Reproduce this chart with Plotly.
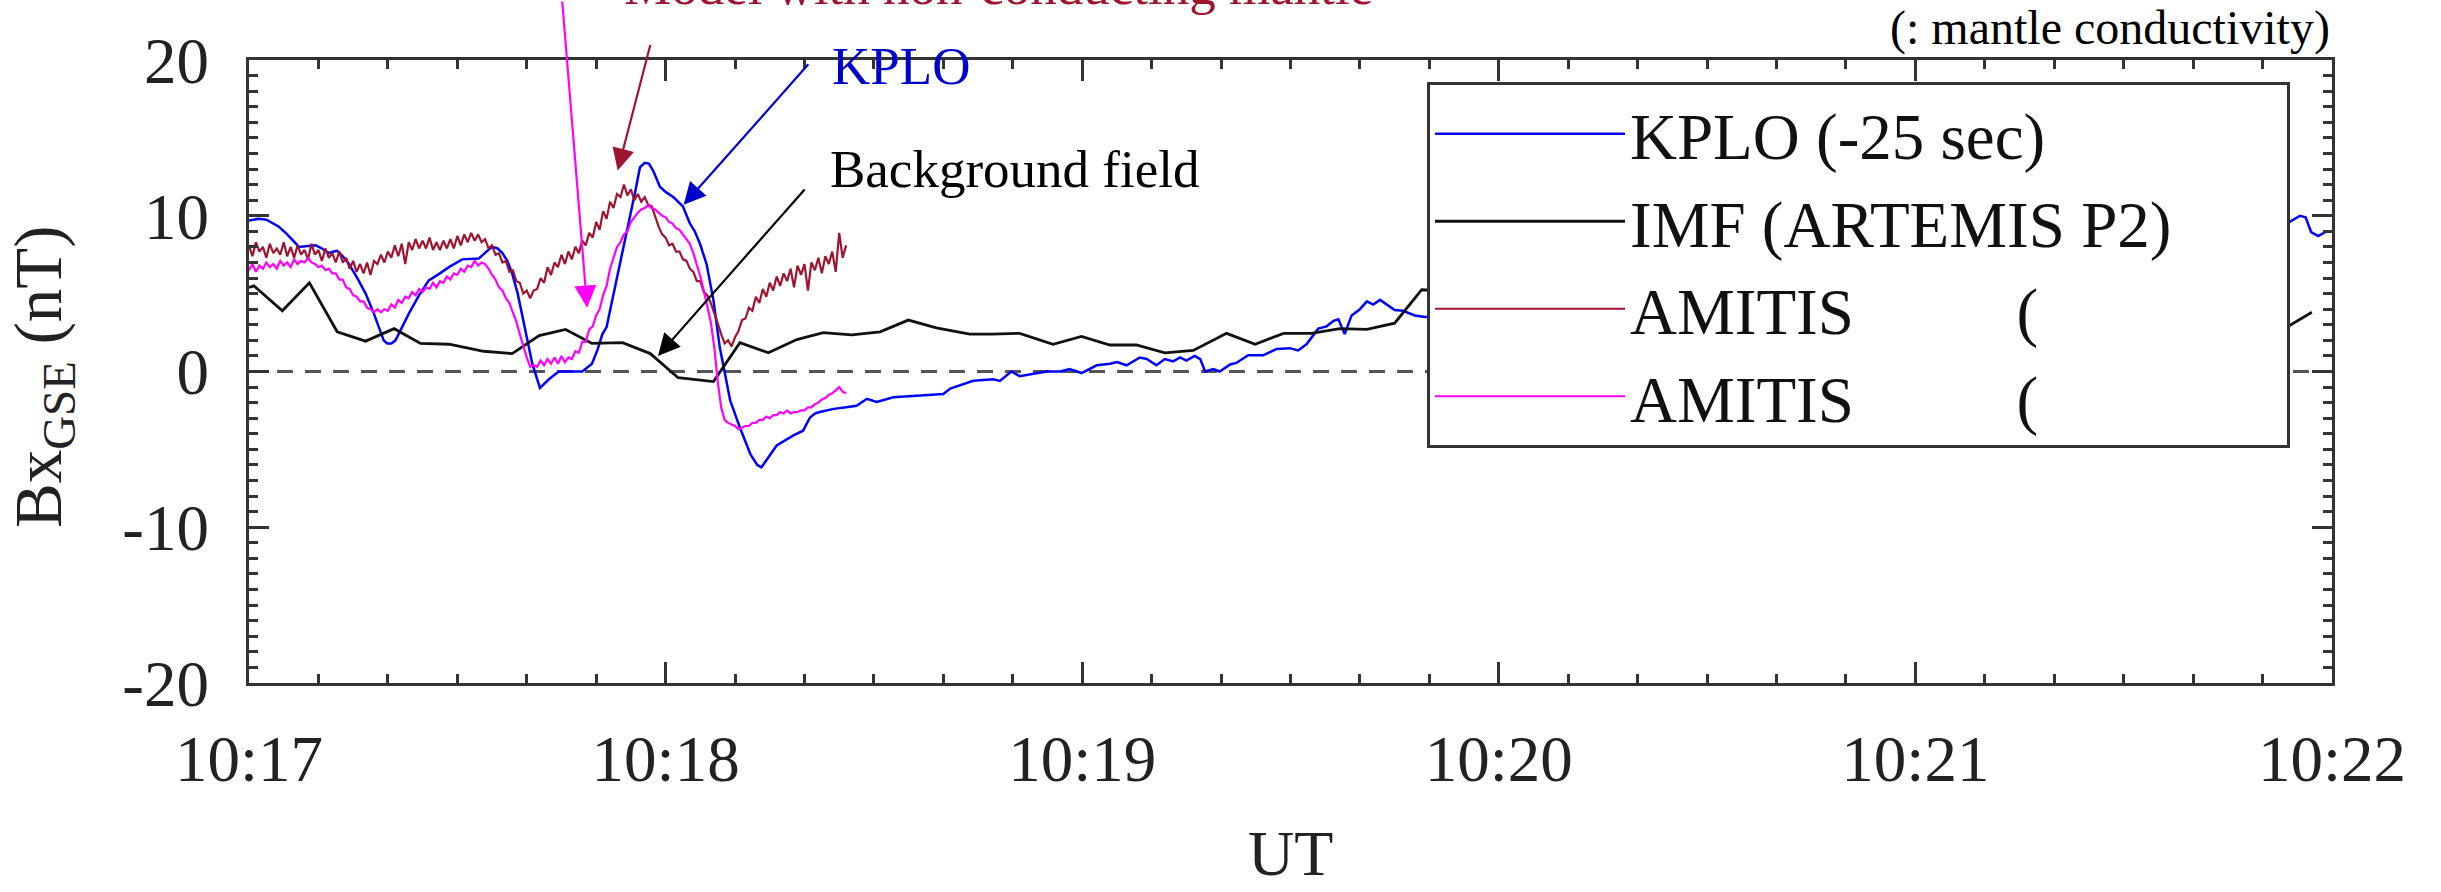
import plotly.graph_objects as go

# ---------------- data ----------------
# seconds after 10:17:00 UT
tick_vals = [0, 60, 120, 180, 240, 300]
tick_text = ["10:17", "10:18", "10:19", "10:20", "10:21", "10:22"]
y_tick_vals = [-20, -10, 0, 10, 20]
y_tick_text = ["-20", "-10", "0", "10", "20"]

kplo_t = [0, 1.4, 2.5, 4.3, 5.5, 7.2, 8.5, 9.6, 10.5, 11.5, 12.2, 12.7, 13.5, 14.4, 15.6, 16.8,
          18.0, 18.7, 19.4, 19.9, 20.5, 21.1, 22.0, 23.0, 24.5, 25.9, 27.5, 28.8, 30.7, 33.1,
          34.2, 35.0, 35.8, 36.5, 37.2, 37.9, 38.7, 39.4, 40.1, 40.8, 41.9, 43.2, 44.6, 48.0,
          49.4, 50.2, 50.9, 51.5, 52.8, 54.4, 55.6, 56.3, 57.0, 57.6, 58.2, 59.2, 60.1, 61.1,
          62.5, 63.5, 64.2, 64.95, 65.9, 66.9, 67.8, 69.3, 70.7, 72.2, 73.2, 73.8, 74.7, 76.0,
          78.4, 79.8, 80.8, 81.5, 82.2, 84.2, 86.0, 87.5, 89.0, 90.4, 92.8, 94.5, 96.2, 98.6,
          100.0, 101.0, 102.9, 104.3, 107.2, 108.15, 109.8, 111.0, 113.0, 114.9, 116.8, 118.2,
          119.9, 122.1, 124.0, 125.0, 126.4, 128.3, 129.3, 130.7, 131.9, 133.1, 134.1, 135.0,
          136.2, 137.0, 137.7, 138.9, 139.8, 141.3, 142.2, 143.9, 146.1, 148.0, 149.9, 151.1,
          152.3, 154.0, 155.2, 156.2, 156.9, 157.8, 158.8, 160.0, 161.0, 161.9, 162.9, 165.0,
          166.2, 167.9, 169.4, 293.3, 295.4, 296.2, 297.0, 298.0, 299.0, 300.0]
kplo_bx = [9.7, 9.8, 9.75, 9.3, 8.8, 8.0, 8.05, 8.1, 7.9, 7.6, 7.7, 7.75, 7.4, 6.9, 6.0, 5.0,
           3.7, 2.85, 2.0, 1.8, 1.8, 2.0, 2.8, 3.7, 4.9, 5.85, 6.3, 6.7, 7.2, 7.25,
           7.7, 8.0, 7.9, 7.6, 7.1, 6.3, 5.0, 3.5, 1.9, 0.5, -1.05, -0.5, 0.0, 0.0,
           0.5, 1.4, 2.4, 2.85, 5.6, 8.85, 11.5, 13.1, 13.4, 13.35, 12.9, 11.85, 11.5, 11.2,
           10.6, 9.5, 9.0, 8.2, 6.9, 4.55, 1.55, -1.85, -3.6, -5.3, -6.0, -6.15, -5.6, -4.75,
           -4.1, -3.8, -2.95, -2.7, -2.6, -2.4, -2.3, -2.2, -1.75, -1.95, -1.65, -1.6, -1.55, -1.45,
           -1.45, -1.1, -0.8, -0.6, -0.5, -0.6, 0.0, -0.3, -0.15, 0.0, 0.0, 0.15,
           -0.1, 0.4, 0.5, 0.6, 0.4, 0.9, 0.8, 0.4, 0.8, 0.65, 0.9, 0.7,
           1.0, 0.8, 0.0, 0.15, 0.0, 0.45, 0.55, 1.05, 1.05, 1.45, 1.5, 1.35,
           1.75, 2.75, 2.9, 3.25, 3.35, 2.4, 3.6, 4.0, 4.5, 4.3, 4.6, 3.95,
           3.9, 3.6, 3.5, 9.45, 10.0, 9.9, 8.95, 8.7, 8.95, 9.0]

imf_t = [0.0, 0.7, 4.8, 8.7, 12.7, 16.8, 20.9, 24.7, 28.8, 33.8, 37.9, 41.8, 45.6, 49.4, 53.8,
         57.8, 61.8, 66.9, 70.7, 74.8, 78.9, 82.7, 86.8, 90.9, 94.95, 99.0, 103.8, 107.0, 111.0,
         115.8, 119.9, 124.0, 127.8, 131.9, 136.0, 140.8, 144.9, 149.0, 153.0, 157.1, 161.0,
         165.0, 168.9, 293.3, 297.1]
imf_bx = [5.4, 5.5, 3.9, 5.7, 2.55, 1.95, 2.75, 1.8, 1.75, 1.3, 1.15, 2.3, 2.7, 1.8, 1.85,
          1.15, -0.4, -0.65, 1.85, 1.2, 2.05, 2.5, 2.35, 2.55, 3.3, 2.8, 2.4, 2.4, 2.45,
          1.75, 2.25, 1.7, 1.7, 1.2, 1.35, 2.45, 1.75, 2.45, 2.45, 2.75, 2.7,
          3.1, 5.25, 2.8, 3.8]

# AMITIS runs, sampled every 0.5 s from 10:17:00
amitis_dt = 0.5
amitis_nc_bx = [8.1, 7.4, 8.3, 7.7, 8.0, 7.3, 8.2, 7.6, 7.9, 7.5, 8.3, 7.4, 8.0, 7.3, 8.1, 7.5,
                7.8, 7.2, 8.2, 7.5, 7.8, 7.1, 7.9, 7.3, 7.6, 7.0, 7.7, 7.0, 7.3, 6.6, 7.1, 6.4,
                6.9, 6.3, 7.0, 6.2, 7.1, 6.9, 7.5, 7.0, 7.7, 7.3, 8.1, 7.4, 8.2, 6.9, 8.3, 7.8,
                8.5, 7.9, 8.4, 7.9, 8.6, 7.8, 8.3, 7.8, 8.4, 7.9, 8.5, 7.9, 8.7, 8.1, 8.8, 8.3,
                8.9, 8.4, 8.8, 8.3, 8.5, 7.9, 8.1, 7.5, 7.6, 7.0, 7.1, 6.4, 6.5, 5.8, 5.7, 5.0,
                5.2, 4.7, 5.2, 5.3, 6.0, 5.7, 6.7, 6.2, 7.0, 6.7, 7.5, 6.9, 7.7, 7.2, 8.0, 7.6,
                8.4, 8.1, 8.9, 8.6, 9.6, 9.1, 10.3, 9.8, 10.9, 10.5, 11.4, 11.2, 12.0, 11.3, 11.7, 11.0,
                11.4, 10.9, 11.2, 10.7, 10.6, 9.9, 9.3, 8.8, 8.6, 8.1, 8.2, 7.7, 7.7, 7.2, 7.1, 6.6,
                6.4, 5.8, 5.8, 5.1, 4.9, 4.4, 3.8, 3.1, 2.4, 1.8, 2.0, 1.6, 2.2, 2.6, 3.3, 3.4,
                4.1, 3.9, 4.8, 4.4, 5.3, 4.8, 5.7, 5.2, 6.1, 5.5, 6.3, 5.8, 6.6, 5.4, 6.8, 6.2,
                6.9, 5.2, 7.0, 6.5, 7.3, 6.3, 7.4, 6.9, 7.7, 6.4, 8.9, 7.3, 8.1]
amitis_c_bx = [6.5, 6.9, 6.4, 6.8, 6.6, 7.0, 6.7, 6.9, 6.6, 7.1, 6.8, 7.0, 6.7, 7.2, 6.9, 7.1,
               7.0, 7.3, 7.0, 6.9, 6.7, 6.8, 6.5, 6.6, 6.3, 6.3, 5.9, 5.9, 5.4, 5.3, 4.9, 4.8,
               4.5, 4.5, 4.1, 4.0, 3.8, 4.0, 3.8, 4.0, 3.9, 4.3, 4.1, 4.6, 4.4, 4.8, 4.7, 5.1,
               4.9, 5.3, 5.1, 5.4, 5.3, 5.7, 5.4, 5.8, 5.7, 6.1, 5.9, 6.3, 6.2, 6.6, 6.4, 6.8,
               6.7, 7.1, 6.8, 7.0, 6.9, 6.6, 6.2, 5.9, 5.4, 5.2, 4.7, 4.4, 3.8, 3.2, 2.4, 1.6,
               0.9, 0.3, 0.4, 0.3, 0.7, 0.4, 0.8, 0.5, 0.9, 0.5, 1.0, 0.6, 0.9, 0.8, 1.3, 1.2,
               1.9, 1.9, 2.7, 2.9, 3.6, 4.0, 4.9, 5.5, 6.6, 7.3, 8.0, 8.3, 8.8, 9.0, 9.6, 9.9,
               10.2, 10.4, 10.5, 10.7, 10.5, 10.4, 10.2, 10.0, 9.9, 9.6, 9.5, 9.2, 9.1, 8.8, 8.5, 8.2,
               7.6, 6.9, 6.1, 5.2, 4.3, 3.2, 1.6, -0.6, -2.3, -3.1, -3.3, -3.4, -3.5, -3.7, -3.6, -3.5,
               -3.5, -3.3, -3.3, -3.1, -3.1, -2.9, -3.0, -2.8, -2.8, -2.6, -2.7, -2.5, -2.7, -2.6, -2.6, -2.5,
               -2.5, -2.3, -2.3, -2.1, -2.0, -1.8, -1.7, -1.5, -1.4, -1.2, -1.0, -1.3, -1.4]
amitis_nc_t = [i * amitis_dt for i in range(len(amitis_nc_bx))]
amitis_c_t = [i * amitis_dt for i in range(len(amitis_c_bx))]

NB = "\u00a0"
series_names = ["KPLO (-25 sec)", "IMF (ARTEMIS P2)",
                "AMITIS" + NB * 10 + "(" + NB * 15,
                "AMITIS" + NB * 10 + "(" + NB * 15]

# ---------------- styling ----------------
FONT = "Liberation Serif"
BLUE = "#0000FF"
DARKRED = "#9E1530"
MAGENTA = "#FF00FF"
AX = "#333333"

fig = go.Figure()
fig.add_trace(go.Scatter(x=kplo_t, y=kplo_bx, mode="lines", name=series_names[0],
                         line=dict(color=BLUE, width=2.5)))
fig.add_trace(go.Scatter(x=imf_t, y=imf_bx, mode="lines", name=series_names[1],
                         line=dict(color="#111111", width=2.8)))
fig.add_trace(go.Scatter(x=amitis_nc_t, y=amitis_nc_bx, mode="lines", name=series_names[2],
                         line=dict(color=DARKRED, width=2.2)))
fig.add_trace(go.Scatter(x=amitis_c_t, y=amitis_c_bx, mode="lines", name=series_names[3],
                         line=dict(color=MAGENTA, width=2.2)))

# zero reference line
fig.add_shape(type="line", xref="paper", yref="y", x0=0, x1=1, y0=0, y1=0,
              line=dict(color="#555555", width=3, dash="16px,12px"), layer="below")

axis_common = dict(showline=True, linecolor=AX, linewidth=3, mirror="ticks",
                   ticks="inside", tickcolor=AX, tickwidth=2.5, showgrid=False, zeroline=False,
                   tickfont=dict(family=FONT, size=65, color="#222222"))

fig.update_xaxes(range=[0, 300], tickvals=tick_vals, ticktext=tick_text, ticklen=21,
                 ticklabelstandoff=17,
                 minor=dict(dtick=10, ticks="inside", ticklen=9, tickcolor=AX, tickwidth=2.5,
                            showgrid=False),
                 **axis_common)
fig.update_yaxes(range=[-20, 20], tickvals=y_tick_vals, ticktext=y_tick_text, ticklen=20,
                 ticklabelstandoff=24,
                 minor=dict(dtick=1, ticks="inside", ticklen=9, tickcolor=AX, tickwidth=2.5,
                            showgrid=False),
                 **axis_common)

W, H = 2441, 892
L, R, T, B = 249, 109, 60, 209
pw, ph = W - L - R, H - T - B


def px_to_paper(xp, yp):
    return (xp - L) / pw, (H - B - yp) / ph


annotations = []
# axis titles
x0, y0 = px_to_paper(1290, 891)
annotations.append(dict(text="UT", xref="paper", yref="paper", x=x0, y=y0, showarrow=False,
                        xanchor="center", yanchor="bottom",
                        font=dict(family=FONT, size=64, color="#222222")))
x0, y0 = px_to_paper(43, 377)
annotations.append(dict(text="Bx<sub>GSE</sub> (nT)", xref="paper", yref="paper", x=x0, y=y0,
                        showarrow=False, textangle=-90, xanchor="center", yanchor="middle",
                        font=dict(family=FONT, size=67, color="#222222")))
# text labels
x0, y0 = px_to_paper(2332, 28)
annotations.append(dict(text="(: mantle conductivity)", xref="paper", yref="paper", x=x0, y=y0,
                        showarrow=False, xanchor="right", yanchor="middle",
                        font=dict(family=FONT, size=48, color="#000000")))
x0, y0 = px_to_paper(622, -14)
annotations.append(dict(text="Model with non-conducting mantle", xref="paper", yref="paper",
                        x=x0, y=y0, showarrow=False, xanchor="left", yanchor="middle",
                        font=dict(family=FONT, size=53, color=DARKRED)))
x0, y0 = px_to_paper(830, 66)
annotations.append(dict(text="KPLO", xref="paper", yref="paper", x=x0, y=y0, showarrow=False,
                        xanchor="left", yanchor="middle",
                        font=dict(family=FONT, size=53, color="#0000CC")))
x0, y0 = px_to_paper(828, 169)
annotations.append(dict(text="Background field", xref="paper", yref="paper", x=x0, y=y0,
                        showarrow=False, xanchor="left", yanchor="middle",
                        font=dict(family=FONT, size=53, color="#000000")))

# arrows (tip in data coordinates, tail offset in pixels)
arrows = [
    (48.7, 4.1, -25, -337, MAGENTA),
    (53.1, 12.9, 33, -127, DARKRED),
    (62.6, 10.7, 126, -142, "#0000CC"),
    (58.9, 1.0, 148, -168, "#000000"),
]
for xt, yt, axp, ayp, col in arrows:
    annotations.append(dict(x=xt, y=yt, xref="x", yref="y", ax=axp, ay=ayp, text="",
                            showarrow=True, arrowhead=2, arrowsize=2.0, arrowwidth=2.2,
                            arrowcolor=col))

lx, ly = px_to_paper(1427, 82)
fig.update_layout(
    width=W, height=H,
    margin=dict(l=L, r=R, t=T, b=B, pad=0),
    paper_bgcolor="white", plot_bgcolor="white",
    font=dict(family=FONT, size=65, color="#111111"),
    showlegend=True,
    legend=dict(x=lx, y=ly, xanchor="left", yanchor="top", bgcolor="white",
                bordercolor=AX, borderwidth=3, itemwidth=190,
                font=dict(family=FONT, size=65, color="#111111"), tracegroupgap=0),
    annotations=annotations,
)

fig.write_html("out.html")
